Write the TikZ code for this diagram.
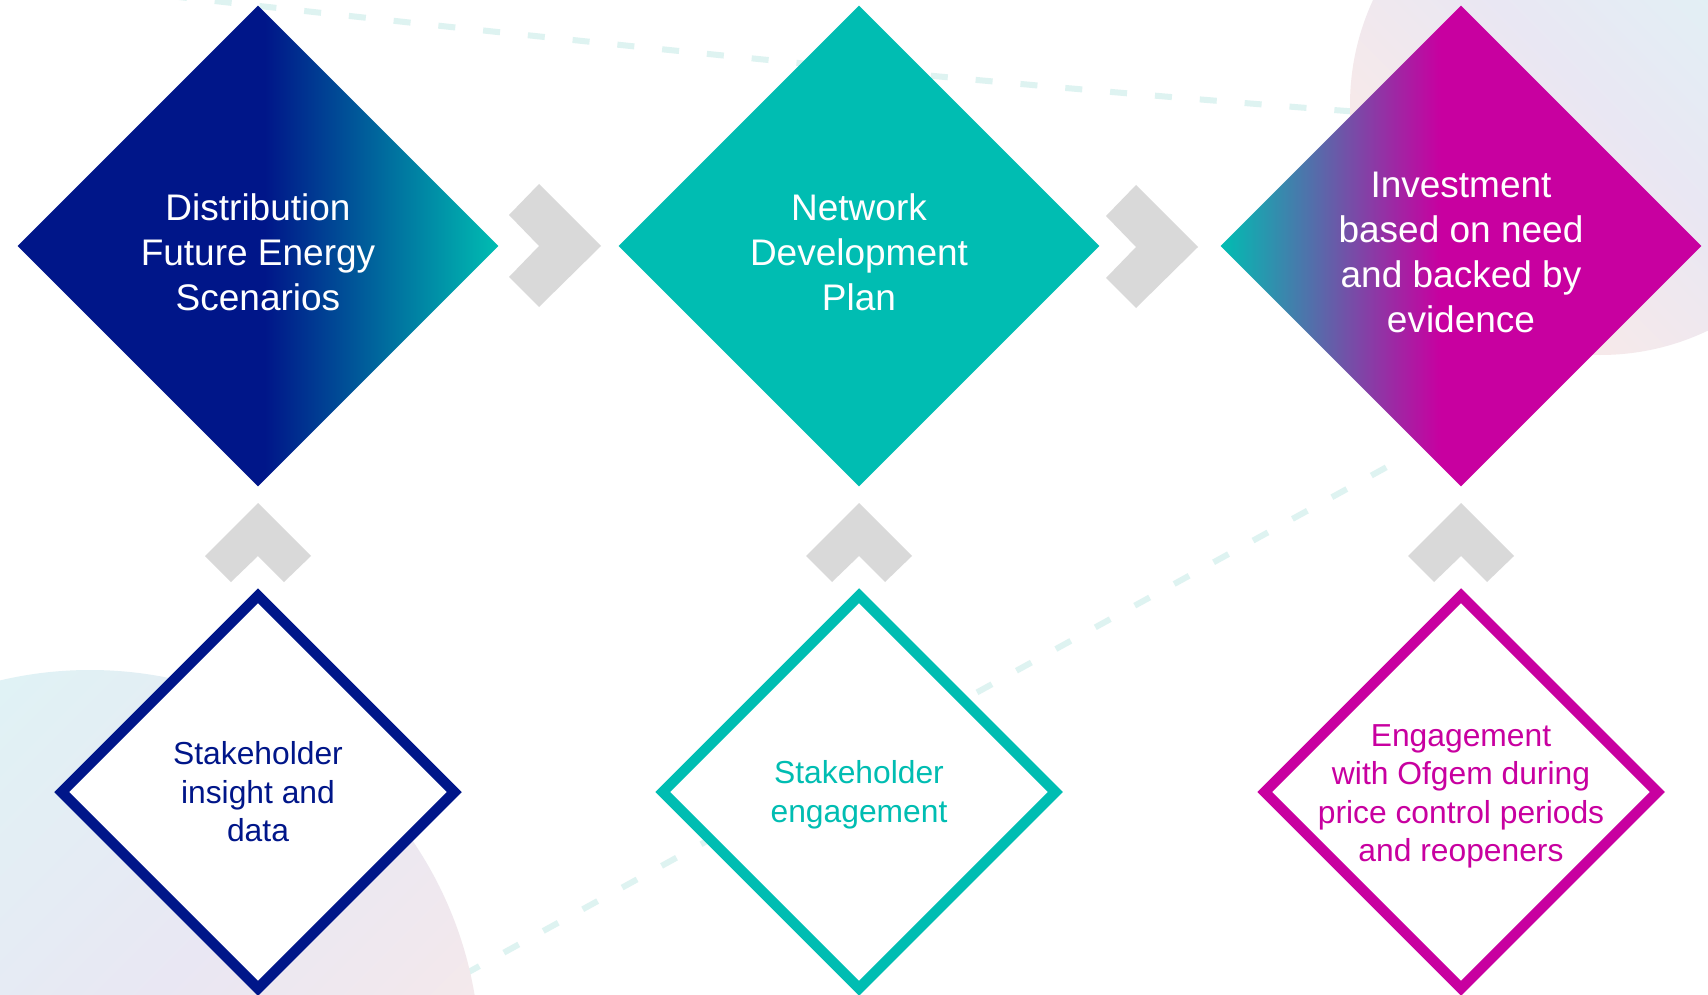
\documentclass[tikz,border=0pt]{standalone}
\usepackage{fontspec}
\setmainfont{Liberation Sans}
\usetikzlibrary{shapes.geometric,calc}
\definecolor{navyc}{RGB}{0,22,137}
\definecolor{tealc}{RGB}{0,189,178}
\definecolor{magc}{RGB}{200,0,160}
\definecolor{chevc}{RGB}{217,217,217}
\definecolor{dashc}{RGB}{222,243,241}
\definecolor{blobcyan}{RGB}{222,244,245}
\definecolor{bloblav}{RGB}{233,231,243}
\definecolor{blobpeach}{RGB}{252,234,230}
\pgfdeclarehorizontalshading{dfesshade}{100bp}{color(0bp)=(navyc); color(50.7bp)=(navyc); color(75bp)=(tealc); color(100bp)=(tealc)}
\pgfdeclarehorizontalshading{invshade}{100bp}{color(0bp)=(tealc); color(25bp)=(tealc); color(47.9bp)=(magc); color(100bp)=(magc)}
\tikzset{
  topbox/.style={diamond, aspect=1, inner sep=0pt, minimum size=481pt, draw=none},
  botbox/.style={diamond, aspect=1, inner sep=0pt, minimum size=397pt, line width=10.5pt, fill=white},
  toptext/.style={align=center, text=white, inner sep=0pt, font=\fontsize{37}{45}\selectfont},
  bottext/.style={align=center, inner sep=0pt, font=\fontsize{31.8}{38.5}\selectfont},
  dashline/.style={draw=dashc, line width=6pt, dash pattern=on 17pt off 28pt},
  rchev/.pic={\fill[chevc] (-46,-31) -- (-16,-62) -- (46,0) -- (-16,61) -- (-46,31) -- (-16,0) -- cycle;},
  uchev/.pic={\fill[chevc] (0,-39) -- (53,14) -- (26,40) -- (0,14) -- (-27,40) -- (-53,14) -- cycle;}
}
\begin{document}
\begin{tikzpicture}[x=1pt,y=-1pt]
\useasboundingbox (0,0) rectangle (1708,995);
\fill[white] (0,0) rectangle (1708,995);
\begin{scope}
\clip (0,0) rectangle (1708,995);
% dashed background lines
\coordinate (la) at (170,-4);
\coordinate (lb) at (1360,112);
\coordinate (lc) at (425,996);
\coordinate (ld) at (1405,457);
\draw[dashline] (la) .. controls (650,50) and (1000,85) .. (lb);
\draw[dashline] (lc) -- (ld);
% soft background blobs
\shade[top color=blobcyan, bottom color=blobpeach, middle color=bloblav, shading angle=-45] (1600,105) circle[radius=250];
\shade[top color=blobcyan, bottom color=blobpeach, middle color=bloblav, shading angle=45] (90,1060) circle[radius=390];
\end{scope}
% top diamonds
\node[topbox, shading=dfesshade] (d1) at (258,246) {};
\node[topbox, fill=tealc] (d2) at (859,246) {};
\node[topbox, shading=invshade] (d3) at (1461,246) {};
\node[toptext] (t1) at ($(d1.center)+(0,6.5)$) {Distribution\\Future Energy\\Scenarios};
\node[toptext] (t2) at ($(d2.center)+(0,6.5)$) {Network\\Development\\Plan};
\node[toptext] (t3) at ($(d3.center)+(0,6.5)$) {Investment\\based on need\\and backed by\\evidence};
% bottom diamonds
\node[botbox, draw=navyc] (d4) at (258,792) {};
\node[botbox, draw=tealc] (d5) at (859,792) {};
\node[botbox, draw=magc] (d6) at (1461,792) {};
\node[bottext, text=navyc] (t4) at (d4.center) {Stakeholder\\insight and\\data};
\node[bottext, text=tealc] (t5) at ($(d5.center)+(0,3)$) {Stakeholder\\engagement};
\node[bottext, text=magc] (t6) at ($(d6.center)+(0,4.5)$) {Engagement\\with Ofgem during\\price control periods\\and reopeners};
% chevrons
\pic at (555,246) {rchev};
\pic at (1152,247) {rchev};
\pic at (258,542) {uchev};
\pic at (859,542) {uchev};
\pic at (1461,542) {uchev};
\end{tikzpicture}
\end{document}
